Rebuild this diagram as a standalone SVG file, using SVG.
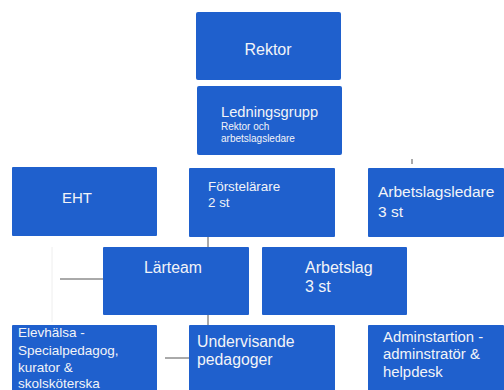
<svg xmlns="http://www.w3.org/2000/svg" width="504" height="390" viewBox="0 0 504 390">
<style>
.box{fill:#1f60cd;}
.t{font-family:"Liberation Sans",Arial,sans-serif;fill:#f2f4f8;}
.c{stroke:#555;stroke-width:1;fill:none;}
</style>
<rect width="504" height="390" fill="#ffffff"/>
<g id="connectors">
<line class="c" x1="208" y1="237" x2="208" y2="247"/>
<line class="c" x1="208" y1="315" x2="208" y2="325"/>
<line class="c" x1="60" y1="279" x2="103" y2="279"/>
<line class="c" x1="165" y1="358" x2="189" y2="358"/>
<line class="c" x1="412" y1="159" x2="412" y2="164" stroke="#999"/>
<line x1="52" y1="247" x2="52" y2="322" stroke="#eee" stroke-width="1"/>
<line x1="265" y1="93" x2="265" y2="118" stroke="#1a4fae" stroke-width="1"/>
</g>
<g id="rektor">
<rect class="box" x="196" y="12" width="145" height="68" rx="2"/>
<text class="t" x="268" y="55" font-size="16" text-anchor="middle">Rektor</text>
</g>
<g id="ledningsgrupp">
<rect class="box" x="197" y="86" width="145" height="69" rx="2"/>
<text class="t" x="221" y="117" font-size="14.7">Ledningsgrupp</text>
<text class="t" x="221" y="130" font-size="10">Rektor och</text>
<text class="t" x="221" y="142" font-size="10">arbetslagsledare</text>
</g>
<g id="eht">
<rect class="box" x="12" y="167" width="145" height="69" rx="1"/>
<text class="t" x="77" y="203" font-size="15" text-anchor="middle">EHT</text>
</g>
<g id="forstelarare">
<rect class="box" x="189" y="168" width="146" height="69" rx="1"/>
<text class="t" x="208" y="191" font-size="13.4">Förstelärare</text>
<text class="t" x="208" y="207" font-size="13.4">2 st</text>
</g>
<g id="arbetslagsledare">
<rect class="box" x="368" y="168" width="136" height="69" rx="1"/>
<text class="t" x="378" y="197" font-size="15.5">Arbetslagsledare</text>
<text class="t" x="378" y="217" font-size="15.5">3 st</text>
</g>
<g id="larteam">
<rect class="box" x="103" y="247" width="146" height="68" rx="1"/>
<text class="t" x="144" y="273" font-size="15.8">Lärteam</text>
</g>
<g id="arbetslag">
<rect class="box" x="262" y="247" width="145" height="68" rx="1"/>
<text class="t" x="305" y="273" font-size="16">Arbetslag</text>
<text class="t" x="305" y="292" font-size="16">3 st</text>
</g>
<g id="elevhalsa">
<rect class="box" x="12" y="325" width="145" height="70" rx="1"/>
<text class="t" x="18" y="337" font-size="13.5">Elevhälsa -</text>
<text class="t" x="18" y="355" font-size="13.5">Specialpedagog,</text>
<text class="t" x="18" y="372" font-size="13.5">kurator &amp;</text>
<text class="t" x="18" y="388" font-size="13.5">skolsköterska</text>
</g>
<g id="undervisande">
<rect class="box" x="189" y="325" width="146" height="70" rx="1"/>
<text class="t" x="197" y="347" font-size="15.8">Undervisande</text>
<text class="t" x="197" y="365" font-size="15.8">pedagoger</text>
</g>
<g id="administration">
<rect class="box" x="368" y="325" width="136" height="70" rx="1"/>
<text class="t" x="383" y="342" font-size="14.9">Adminstartion -</text>
<text class="t" x="383" y="359" font-size="14.9">adminstratör &amp;</text>
<text class="t" x="383" y="377" font-size="14.9">helpdesk</text>
</g>
</svg>
